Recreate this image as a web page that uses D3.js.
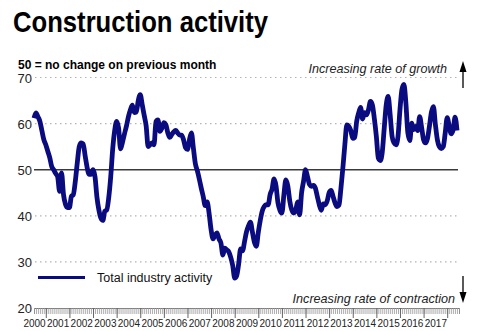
<!DOCTYPE html>
<html>
<head>
<meta charset="utf-8">
<script src="https://cdn.jsdelivr.net/npm/d3@7"></script>
<style>
  body { margin: 0; background: #fff; }
  svg { display: block; font-family: Arial, "Liberation Sans", sans-serif; }
</style>
</head>
<body>
<div id="chart"></div>
<script>
// monthly index values, Jan 2000 - Dec 2017
var years = d3.range(2000, 2018)
var v2000 = [61.2, 62.3, 61.5, 60.5, 58.5, 56.5, 55.4, 54, 52.6, 50.7, 50, 49.2]
var v2001 = [48.5, 45.3, 49.3, 44.6, 42.5, 41.8, 41.8, 44.2, 44.6, 47.5, 51.5, 55]
var v2002 = [55.8, 55.6, 53, 50.5, 49, 49, 50, 48.5, 44, 41.2, 39.5, 39]
var v2003 = [41, 41.3, 44, 48.5, 54.5, 58.5, 60.5, 59, 54.5, 56, 57.8, 59.5]
var v2004 = [61.5, 63, 64, 62.4, 62.5, 65, 66.3, 64.1, 61.8, 59.5, 55, 55.4]
var v2005 = [55.8, 55.4, 60.5, 60.8, 58.3, 59, 60.2, 59.8, 58, 57, 57.6, 58.2]
var v2006 = [58.5, 58, 57.5, 57.5, 56.5, 54.8, 54.4, 56.5, 58, 54.7, 51.3, 49.8]
var v2007 = [48, 46, 44.2, 42.2, 43, 40.5, 37, 35, 35.8, 36.3, 35, 34.1]
var v2008 = [31.5, 33, 32.6, 32.2, 31, 29.2, 26.5, 27, 29.5, 32.8, 32.4, 34.4]
var v2009 = [36.5, 37.8, 38.6, 36.5, 34.3, 33.4, 36.4, 39, 41, 42, 42.4, 42.4]
var v2010 = [44.6, 45.8, 48, 46.5, 42.8, 41.2, 40.6, 44.5, 47.8, 46.5, 43.2, 41.3]
var v2011 = [40.6, 41.2, 43, 40.2, 45, 47.5, 50, 48.5, 46.8, 46.4, 46.6, 46]
var v2012 = [44.2, 42.4, 41.2, 42.6, 42.4, 43.2, 45, 45.5, 44.2, 42.8, 42, 42.3]
var v2013 = [46, 50.5, 55.5, 59.7, 59.4, 58.5, 56.8, 57, 60.5, 62.3, 63.5, 61]
var v2014 = [62.4, 61.9, 63, 64.8, 64, 61, 57.2, 52.5, 52, 53.8, 59, 64]
var v2015 = [65.9, 62, 57.2, 55.8, 55.4, 57.2, 63, 67.4, 68.5, 64.5, 58, 56.3]
var v2016 = [60.1, 58.7, 59.4, 58.5, 61.5, 59.2, 56.5, 55.8, 56.8, 59.5, 62.5, 63.7]
var v2017 = [59.8, 56.5, 55, 54.6, 55, 58, 61.3, 59.5, 57.8, 58.6, 61.4, 58.5]
var values = [].concat(v2000, v2001, v2002, v2003, v2004, v2005, v2006, v2007, v2008,
  v2009, v2010, v2011, v2012, v2013, v2014, v2015, v2016, v2017)
var yTicks = [20, 30, 40, 50, 60, 70]
var seriesName = 'Total industry activity'

var W = 480, H = 331
var x = d3.scaleLinear().domain([0, 216]).range([34, 459])
var y = d3.scaleLinear().domain([20, 70]).range([308, 77.5])

var svg = d3.select('#chart').append('svg')
  .attr('width', W).attr('height', H)

// title is condensed in the original, squeeze it to the same width
svg.append('text')
  .attr('x', 13).attr('y', 32)
  .attr('textLength', 255).attr('lengthAdjust', 'spacingAndGlyphs')
  .style('font-weight', 'bold').style('font-size', '30px')
  .text('Construction activity')

svg.append('text')
  .attr('x', 18).attr('y', 69)
  .style('font-weight', 'bold').style('font-size', '12px')
  .text('50 = no change on previous month')

// gridlines
svg.selectAll('.grid')
  .data(yTicks.filter(d => d != 20 && d != 50))
  .enter().append('line')
  .attr('class', 'grid')
  .attr('x1', 35).attr('x2', 458)
  .attr('y1', d => y(d)).attr('y2', d => y(d))
  .attr('stroke', '#b4b4b4').attr('stroke-width', 1.2)
  .attr('stroke-dasharray', '1.5,3.5')

svg.append('line')
  .attr('x1', 34).attr('x2', 458)
  .attr('y1', y(50)).attr('y2', y(50))
  .attr('stroke', '#3a3a3a').attr('stroke-width', 1.6)

svg.selectAll('.ylbl')
  .data(yTicks)
  .enter().append('text')
  .attr('class', 'ylbl')
  .attr('x', 32).attr('y', d => y(d) + 5)
  .attr('text-anchor', 'end')
  .style('font-size', '13px').attr('fill', '#222')
  .text(d => d)

// x ruler axis
var xAxisMinor = d3.axisBottom(x)
  .tickValues(d3.range(0, 217))
  .tickSize(6).tickFormat('')
svg.append('g')
  .attr('transform', 'translate(0,' + y(20) + ')')
  .call(xAxisMinor)
  .call(g => g.select('.domain').attr('stroke', '#777'))
  .call(g => g.selectAll('.tick line').attr('stroke', '#999').attr('stroke-width', 0.8))

var xAxisMajor = d3.axisBottom(x)
  .tickValues(years.map((d, i) => i * 12 + 6))
  .tickSize(10).tickFormat('')
svg.append('g')
  .attr('transform', 'translate(0,' + y(20) + ')')
  .call(xAxisMajor)
  .call(g => g.select('.domain').remove())
  .call(g => g.selectAll('.tick line').attr('stroke', '#666'))

svg.selectAll('.xlbl')
  .data(years)
  .enter().append('text')
  .attr('class', 'xlbl')
  .attr('x', (d, i) => x(i * 12) + 0.5).attr('y', 327)
  .attr('text-anchor', 'middle')
  .style('font-size', '10px').attr('fill', '#222')
  .text(d => d)

// series
var line = d3.line()
  .x((d, i) => x(i))
  .y(d => y(d))
  .curve(d3.curveMonotoneX)
svg.append('path')
  .datum(values)
  .attr('fill', 'none')
  .attr('stroke', '#0b0b80')
  .attr('stroke-width', 4.8)
  .attr('stroke-linejoin', 'round')
  .attr('d', line)

// legend
svg.append('line')
  .attr('x1', 38).attr('x2', 85)
  .attr('y1', 277.5).attr('y2', 277.5)
  .attr('stroke', '#0b0b80').attr('stroke-width', 3)
svg.append('text')
  .attr('x', 97).attr('y', 282)
  .style('font-size', '12.5px').attr('fill', '#111')
  .text(seriesName)

// annotations
svg.append('text')
  .attr('x', 447).attr('y', 73)
  .attr('text-anchor', 'end')
  .style('font-style', 'italic').style('font-size', '12.6px').attr('fill', '#222')
  .text('Increasing rate of growth')
svg.append('text')
  .attr('x', 455).attr('y', 303)
  .attr('text-anchor', 'end')
  .style('font-style', 'italic').style('font-size', '12.6px').attr('fill', '#222')
  .text('Increasing rate of contraction')

// arrows
svg.append('line')
  .attr('x1', 463).attr('x2', 463).attr('y1', 88).attr('y2', 70)
  .attr('stroke', '#000').attr('stroke-width', 1.3)
svg.append('path')
  .attr('d', 'M463,61 L459.5,72 L466.5,72 Z').attr('fill', '#000')
svg.append('line')
  .attr('x1', 463).attr('x2', 463).attr('y1', 276).attr('y2', 294)
  .attr('stroke', '#000').attr('stroke-width', 1.3)
svg.append('path')
  .attr('d', 'M463,303 L459.5,292 L466.5,292 Z').attr('fill', '#000')
</script>
</body>
</html>
